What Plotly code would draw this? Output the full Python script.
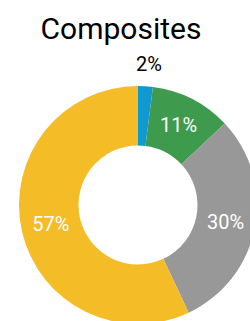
import math
import plotly.graph_objects as go

labels = ["Blue", "Green", "Gray", "Yellow"]
values = [2, 11, 30, 57]
colors = ["#0e9ad0", "#3e9a4c", "#989898", "#f4bc27"]
positions = ["none", "inside", "inside", "inside"]
title_text = "Composites"

W, H = 270, 335
cx, cy, r = 138, 205, 119

fig = go.Figure(go.Pie(
    labels=labels,
    values=values,
    hole=0.5,
    sort=False,
    direction="clockwise",
    rotation=0,
    marker=dict(colors=colors, line=dict(width=0)),
    textinfo="percent",
    textposition=positions,
    insidetextorientation="horizontal",
    insidetextfont=dict(color="white", size=20, family="Roboto"),
    showlegend=False,
    domain=dict(x=[(cx - r) / W, (cx + r) / W], y=[1 - (cy + r) / H, 1 - (cy - r) / H]),
))

# outside label for the small first slice, placed along its mid-angle
total = sum(values)
mid = values[0] / total / 2 * 2 * math.pi
lr = r + 22
lx = cx + lr * math.sin(mid) + 2
ly = cy - lr * math.cos(mid)
fig.add_annotation(
    text=f"{round(values[0] / total * 100)}%",
    x=lx / W, y=1 - ly / H, xref="paper", yref="paper",
    xanchor="center", yanchor="middle", showarrow=False,
    font=dict(size=20, family="Roboto", color="black"),
)

fig.update_layout(
    width=W, height=H,
    margin=dict(l=0, r=0, t=0, b=0),
    paper_bgcolor="white",
    title=dict(text=title_text, x=121 / W, xanchor="center", y=1 - 28 / H, yanchor="middle",
               yref="container", font=dict(size=30, family="Roboto", color="black")),
    font=dict(family="Roboto"),
)

fig.write_html("out.html", config={"displayModeBar": False},
               post_script="document.body.style.margin='0';document.body.style.overflow='hidden';document.documentElement.style.overflow='hidden';")
